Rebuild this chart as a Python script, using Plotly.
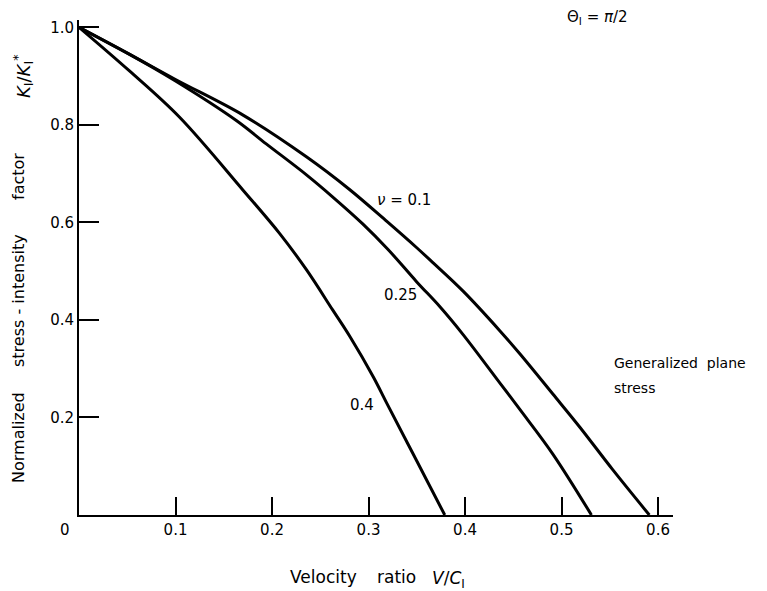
import plotly.graph_objects as go

# Data
x_nu01 = [0.0, 0.052, 0.100, 0.170, 0.236, 0.280, 0.319, 0.350, 0.367, 0.398, 0.436, 0.457, 0.491, 0.519, 0.553, 0.591]
y_nu01 = [1.0, 0.945, 0.893, 0.820, 0.734, 0.668, 0.602, 0.548, 0.517, 0.459, 0.378, 0.330, 0.248, 0.180, 0.093, 0.0]

x_nu025 = [0.0, 0.052, 0.100, 0.163, 0.194, 0.236, 0.263, 0.294, 0.320, 0.350, 0.374, 0.398, 0.436, 0.457, 0.491, 0.531]
y_nu025 = [1.0, 0.945, 0.890, 0.809, 0.761, 0.697, 0.652, 0.597, 0.545, 0.478, 0.427, 0.370, 0.271, 0.216, 0.125, 0.0]

x_nu04 = [0.0, 0.052, 0.104, 0.170, 0.208, 0.236, 0.263, 0.281, 0.305, 0.319, 0.346, 0.379]
y_nu04 = [1.0, 0.911, 0.816, 0.666, 0.577, 0.502, 0.420, 0.365, 0.283, 0.229, 0.126, 0.0]

x_ticks = [0.1, 0.2, 0.3, 0.4, 0.5, 0.6]
x_tick_labels = ["0.1", "0.2", "0.3", "0.4", "0.5", "0.6"]
y_ticks = [0.2, 0.4, 0.6, 0.8, 1.0]
y_tick_labels = ["0.2", "0.4", "0.6", "0.8", "1.0"]

FONT = "DejaVu Sans"
line_style = dict(color="black", width=3)

fig = go.Figure()
for xs, ys in [(x_nu01, y_nu01), (x_nu025, y_nu025), (x_nu04, y_nu04)]:
    fig.add_trace(go.Scatter(x=xs, y=ys, mode="lines",
                             line=dict(shape="spline", smoothing=1.0, **line_style),
                             showlegend=False, hoverinfo="skip"))

# The page body has an 8px margin, so the figure is drawn 8px in from the window edge.
OFF = 8
W, H = 767 - OFF, 591 - OFF
PLOT_L, PLOT_T, PLOT_R, PLOT_B = 79, 20, 673, 515  # plot area in window pixels
L, T = PLOT_L - OFF, PLOT_T - OFF
R, B = W - (PLOT_R - OFF), H - (PLOT_B - OFF)
pw, ph = W - L - R, H - T - B

fig.update_layout(
    width=W, height=H,
    margin=dict(l=L, r=R, t=T, b=B, autoexpand=False),
    paper_bgcolor="white", plot_bgcolor="white",
    font=dict(family=FONT, size=15, color="black"),
    xaxis=dict(range=[0, 0.6155], tickvals=x_ticks, ticktext=x_tick_labels,
               ticks="inside", ticklen=18, tickwidth=1.5, tickcolor="black",
               showline=True, linecolor="black", linewidth=2, showgrid=False, zeroline=False,
               tickfont=dict(size=15), fixedrange=True),
    yaxis=dict(range=[0, 1.015], tickvals=y_ticks, ticktext=y_tick_labels,
               ticks="inside", ticklen=20, tickwidth=1.5, tickcolor="black",
               showline=True, linecolor="black", linewidth=2, showgrid=False, zeroline=False,
               tickfont=dict(size=15), fixedrange=True),
)


def px(x, y):
    """window pixel -> paper coordinates"""
    return (x - PLOT_L) / pw, (PLOT_B - y) / ph


ann = []
# curve labels in data coordinates
ann.append(dict(x=0.337, y=0.646, xref="x", yref="y", text="<i>ν</i> = 0.1", showarrow=False))
ann.append(dict(x=0.333, y=0.452, xref="x", yref="y", text="0.25", showarrow=False))
ann.append(dict(x=0.293, y=0.226, xref="x", yref="y", text="0.4", showarrow=False))

# texts placed by window pixel position (center of text)
for text, (x, y), extra in [
    ("0", (65, 530), {}),
    ("Generalized  plane", (612, 363), dict(xanchor="left", font=dict(size=14))),
    ("stress", (612, 388), dict(xanchor="left", font=dict(size=14))),
    ("Θ<sub>I</sub> = <i>π</i>/2", (597, 18), dict(font=dict(size=15))),
    ("Velocity", (323, 577), dict(font=dict(size=17))),
    ("ratio", (396, 577), dict(font=dict(size=17))),
    ("<i>V</i>/<i>C</i><sub>I</sub>", (448, 579), dict(font=dict(size=17))),
    ("Normalized", (18, 438), dict(textangle=-90, font=dict(size=16))),
    ("stress - intensity", (18, 301), dict(textangle=-90, font=dict(size=16))),
    ("factor", (18, 177), dict(textangle=-90, font=dict(size=16))),
    ("<i>K</i><sub>I</sub>/<i>K</i><sub>I</sub><sup>*</sup>", (23, 77), dict(textangle=-90, font=dict(size=18))),
]:
    xp, yp = px(x, y)
    d = dict(x=xp, y=yp, xref="paper", yref="paper", text=text, showarrow=False,
             xanchor="center", yanchor="middle")
    d.update(extra)
    ann.append(d)

fig.update_layout(annotations=ann)
fig.write_html("out.html")
